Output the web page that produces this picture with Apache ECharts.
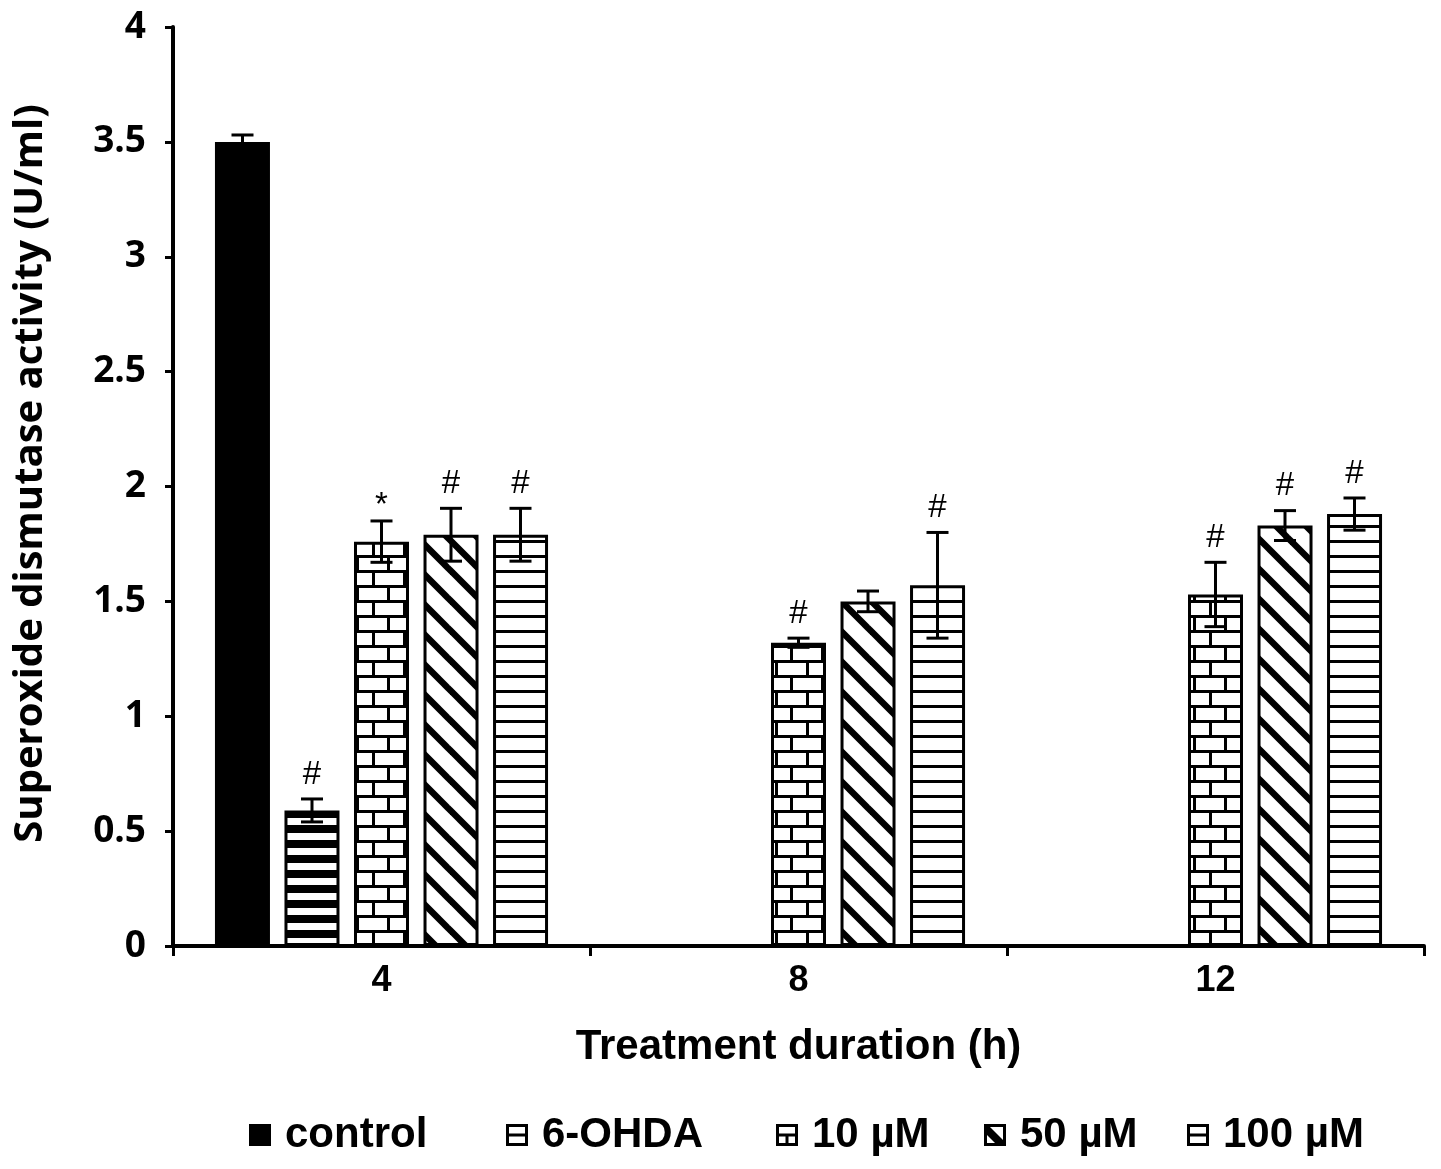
<!DOCTYPE html>
<html><head><meta charset="utf-8">
<script src="https://cdn.jsdelivr.net/npm/echarts@6/dist/echarts.min.js"></script>
<style>html,body{margin:0;padding:0;background:#fff}#c{width:1441px;height:1169px}</style>
</head><body><div id="c"></div>
<script>
// ---- data ----
const categories = ['4', '8', '12'];
const seriesNames = ['control', '6-OHDA', '10 µM', '50 µM', '100 µM'];
const controlVals = [3.5, null, null];
const ohdaVals = [0.59, null, null];
const uM10Vals = [1.76, 1.32, 1.53];
const uM50Vals = [1.79, 1.50, 1.83];
const uM100Vals = [1.79, 1.57, 1.88];
const controlErr = [0.03, null, null];
const ohdaErr = [0.05, null, null];
const uM10Err = [0.09, 0.02, 0.14];
const uM50Err = [0.115, 0.045, 0.065];
const uM100Err = [0.115, 0.23, 0.07];
const controlSig = ['', '', ''];
const ohdaSig = ['#', '', ''];
const uM10Sig = ['*', '#', '#'];
const uM50Sig = ['#', '', '#'];
const uM100Sig = ['#', '#', '#'];
const yTicks = { min: 0, max: 4, interval: 0.5 };

const allVals = [controlVals, ohdaVals, uM10Vals, uM50Vals, uM100Vals];
const allErr = [controlErr, ohdaErr, uM10Err, uM50Err, uM100Err];
const allSig = [controlSig, ohdaSig, uM10Sig, uM50Sig, uM100Sig];

// ---- patterns ----
function mk(w, h, draw) {
  const c = document.createElement('canvas'); c.width = w; c.height = h;
  const g = c.getContext('2d'); g.fillStyle = '#fff'; g.fillRect(0, 0, w, h);
  g.fillStyle = '#000'; g.strokeStyle = '#000'; draw(g); return c;
}
const patSolid = '#000';
const patOhda = mk(10, 15, g => { g.fillRect(0, 0, 10, 8); });
const patBrick = mk(31, 30, g => {
  g.fillRect(0, 0, 31, 3); g.fillRect(0, 15, 31, 3);
  g.fillRect(0, 3, 3, 12); g.fillRect(15, 18, 3, 12);
});
const patDiag = mk(30, 30, g => {
  g.lineWidth = 6.5;
  for (const c of [-30, 0, 30]) { g.beginPath(); g.moveTo(-10, c - 10); g.lineTo(40, c + 40); g.stroke(); }
});
const patLines = mk(10, 15, g => { g.fillRect(0, 0, 10, 3); });
const colors = [patSolid, { image: patOhda, repeat: 'repeat' }, { image: patBrick, repeat: 'repeat' },
  { image: patDiag, repeat: 'repeat' }, { image: patLines, repeat: 'repeat' }];

// legend icons
function icon(draw) {
  const c = mk(22, 22, g => {
    draw(g);
    g.lineWidth = 3; g.strokeRect(1.5, 1.5, 19, 19);
  });
  return 'image://' + c.toDataURL();
}
const icons = [
  icon(g => { g.fillRect(0, 0, 22, 22); }),
  icon(g => { g.fillRect(0, 9.5, 22, 3); }),
  icon(g => { g.fillRect(0, 9.5, 22, 3); g.fillRect(9.5, 11, 3, 11); }),
  icon(g => { g.beginPath(); g.moveTo(0, 3); g.lineTo(6, 3); g.lineTo(19, 16); g.lineTo(19, 22); g.lineTo(14, 22); g.lineTo(0, 8); g.closePath(); g.fill(); }),
  icon(g => { g.fillRect(0, 9.5, 22, 3); })
];
const legendLeft = [249, 506, 776, 984, 1187];

// ---- chart ----
const BAR_W = 55, SLOT = 69.5;
const chart = echarts.init(document.getElementById('c'));
const barSeries = seriesNames.map((n, i) => ({
  name: n, type: 'bar', data: allVals[i], barWidth: BAR_W, barGap: ((SLOT - BAR_W) / BAR_W * 100).toFixed(1) + '%',
  barCategoryGap: '20%',
  itemStyle: { color: colors[i], borderColor: '#000', borderWidth: 3 },
  emphasis: { disabled: true }, animation: false
}));
const errItems = [];
allVals.forEach((vals, si) => vals.forEach((v, ci) => {
  if (v != null) errItems.push({ value: [ci, v, allErr[si][ci], si], sig: allSig[si][ci] });
}));
const errSeries = {
  type: 'custom', z: 10, animation: false, silent: true,
  data: errItems.map(d => d.value),
  renderItem: (params, api) => {
    const it = errItems[params.dataIndex];
    const [ci, v, e, si] = it.value;
    const x = api.coord([ci, v])[0] + (si - 2) * SLOT;
    const top = api.coord([ci, v + e])[1];
    const bot = api.coord([ci, v - e])[1];
    const st = { stroke: '#000', lineWidth: 3 };
    const cw = 11;
    const ch = [
      { type: 'line', shape: { x1: x, y1: top, x2: x, y2: bot }, style: st },
      { type: 'line', shape: { x1: x - cw, y1: top, x2: x + cw, y2: top }, style: st },
      { type: 'line', shape: { x1: x - cw, y1: bot, x2: x + cw, y2: bot }, style: st }
    ];
    if (it.sig) ch.push({ type: 'text', style: { text: it.sig, x: x, y: it.sig === '*' ? top + 1 : top - 8, align: 'center', verticalAlign: 'bottom',
      font: '33px "Liberation Sans"', fill: '#000' } });
    return { type: 'group', children: ch };
  }
};

chart.setOption({
  backgroundColor: '#fff',
  animation: false,
  grid: { left: 173, right: 17, top: 27, bottom: 223 },
  legend: seriesNames.map((n, i) => ({
    data: [{ name: n, icon: icons[i] }], left: legendLeft[i], top: 1114, itemWidth: 22, itemHeight: 22,
    padding: 0, selectedMode: false,
    textStyle: { fontFamily: 'Liberation Sans', fontWeight: 'bold', fontSize: 42, color: '#000', padding: [0, 0, 0, 9] }
  })),
  xAxis: {
    type: 'category', data: categories,
    axisLine: { lineStyle: { color: '#000', width: 4 } },
    axisTick: { show: true, length: 10, lineStyle: { color: '#000', width: 3 } },
    axisLabel: { color: '#000', fontFamily: 'Liberation Sans', fontWeight: 'bold', fontSize: 36, margin: 17 },
    name: 'Treatment duration (h)', nameLocation: 'middle', nameGap: 80,
    nameTextStyle: { color: '#000', fontFamily: 'Liberation Sans', fontWeight: 'bold', fontSize: 42 }
  },
  yAxis: {
    type: 'value', min: yTicks.min, max: yTicks.max, interval: yTicks.interval,
    axisLine: { show: true, lineStyle: { color: '#000', width: 4 } },
    axisTick: { show: true, length: 8, lineStyle: { color: '#000', width: 3 } },
    splitLine: { show: false },
    axisLabel: { color: '#000', fontFamily: 'Open Sans', fontWeight: 'bold', fontSize: 37, margin: 27 },
    name: 'Superoxide dismutase activity (U/ml)', nameLocation: 'middle', nameGap: 122,
    nameTextStyle: { color: '#000', fontFamily: 'Open Sans', fontWeight: 'bold', fontSize: 40, padding: [0, 0, 0, 26] }
  },
  series: [...barSeries, errSeries]
});
</script></body></html>
